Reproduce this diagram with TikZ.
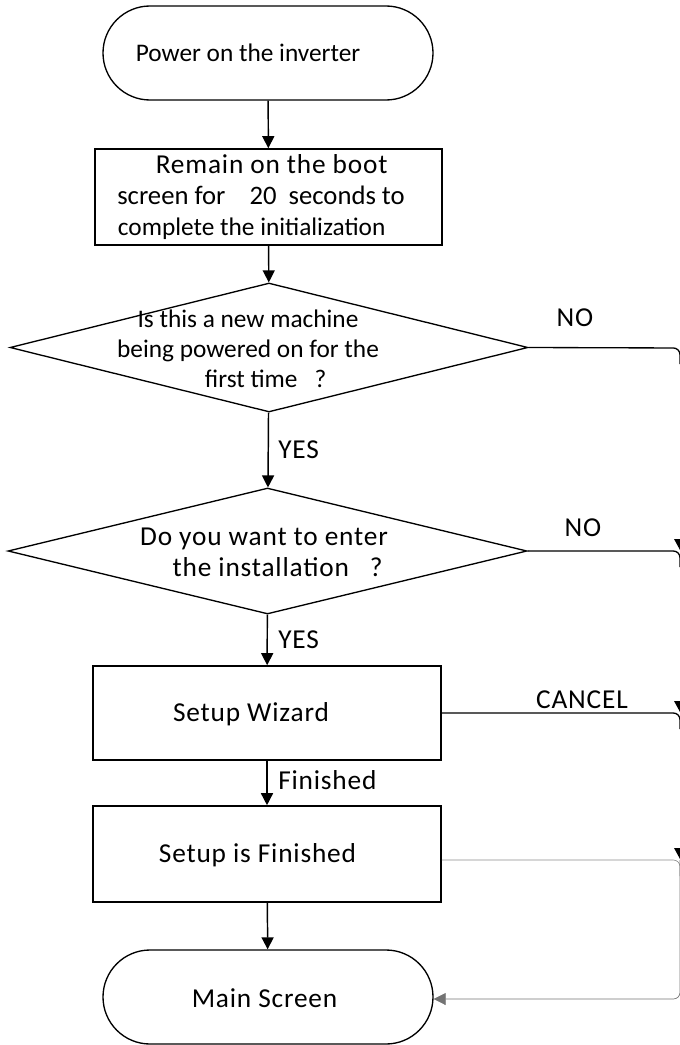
\documentclass[tikz,border=0pt]{standalone}
\usepackage{fontspec}
\setmainfont{Carlito}
\newfontfamily\widefont[LetterSpace=3]{Carlito}
\usetikzlibrary{arrows.meta,shapes.geometric,shapes.misc}
\begin{document}
\begin{tikzpicture}[x=0.75pt,y=-0.75pt,
  every node/.style={font=\fontsize{19}{22.5}\selectfont},
  big/.style={font=\widefont\fontsize{20.5}{23.5}\selectfont},
  term/.style={rounded rectangle, draw, line width=1pt, minimum width=247.5pt, minimum height=70.5pt, inner sep=0pt},
  procbox/.style={rectangle, draw, line width=1.2pt, inner sep=0pt},
  decision/.style={diamond, draw, line width=1pt, inner sep=0pt},
  txt/.style={inner sep=0pt, align=center},
  flow/.style={line width=1.1pt, -{Triangle[length=9pt,width=9pt]}},
  ret/.style={line width=1pt, rounded corners=5pt},
  retgray/.style={line width=0.5pt, draw=black!45, rounded corners=5pt},
  lbl/.style={big, inner sep=0pt, anchor=west}
]
\useasboundingbox (0,0) rectangle (680,1045);

% shapes
\node[term] (power) at (268,53) {};
\node[txt] (powertxt) at (248,53) {Power on the inverter};

\node[procbox, minimum width=260.25pt, minimum height=72pt] (boot) at (268.5,197) {};
\node[txt, font=\fontsize{20}{23}\selectfont] (boottxt) at (261,197) {\hspace*{16pt}{\widefont\fontsize{20.5}{23}\selectfont Remain on the boot}\\screen for\ \ \ \ 20\ \ seconds to\\{\fontsize{19}{23}\selectfont complete the initialization}\hspace*{14pt}};

\node[decision, minimum width=388.5pt, minimum height=96.75pt] (d1) at (269,347.5) {};
\node[txt] (d1txt) at (248,349) {Is this a new machine\\being powered on for the\\\hspace*{1.4em}first time\ \ \ ?};

\node[decision, minimum width=389.25pt, minimum height=94.5pt] (d2) at (267.5,551) {};
\node[txt, big] (d2txt) at (264,552) {Do you want to enter\\\hspace*{1.0em}the installation\ \ \ ?};

\node[procbox, minimum width=261pt, minimum height=70.5pt] (wiz) at (267,713) {};
\node[txt, big] (wiztxt) at (251,714) {Setup Wizard};

\node[procbox, minimum width=261pt, minimum height=72pt] (fin) at (267,854) {};
\node[txt, big] (fintxt) at (257.5,855) {Setup is Finished};

\node[term, minimum height=70.5pt] (main) at (268,997) {};
\node[txt, big] (maintxt) at (264.5,998) {Main Screen};

% vertical flow
\draw[flow] (power) -- (boot);
\draw[flow] (boot) -- (d1);
\draw[flow] (d1) -- (d2);
\draw[flow] (d2) -- (wiz);
\draw[flow] (wiz) -- (fin);
\draw[flow] (fin) -- (main);

\node[lbl] (yes1) at (278,450) {YES};
\node[lbl] (yes2) at (278,640) {YES};
\node[lbl] (finl) at (278,780) {Finished};

% return path on the right
\coordinate (r1) at (680,348);
\coordinate (r2) at (680,551);
\coordinate (r3) at (680,713);
\coordinate (r4) at (680,860);
\coordinate (rb) at (680,999);

\draw[ret] (d1.east) -- (r1) -- ([yshift=-12pt]r1);
\draw[ret] (d2.east) -- (r2) -- ([yshift=-12pt]r2);
\draw[ret] (wiz.east) -- (r3) -- ([yshift=-12pt]r3);
\draw[retgray] (fin.east |- r4) -- (r4) -- ([yshift=-12pt]r4);
\draw[retgray] (r1) -- (rb);
\draw[retgray, -{Triangle[length=9pt,width=9pt]}, draw=black!55] (r4) -- (rb) -- (main.east |- rb);

\fill ([shift={(-6,-12)}]r2) -- ([shift={(6,-12)}]r2) -- ([shift={(0,-1)}]r2) -- cycle;
\fill ([shift={(-6,-12)}]r3) -- ([shift={(6,-12)}]r3) -- ([shift={(0,-1)}]r3) -- cycle;
\fill ([shift={(-6,-12)}]r4) -- ([shift={(6,-12)}]r4) -- ([shift={(0,-1)}]r4) -- cycle;

\node[big, inner sep=0pt] (no1) at (575,318) {NO};
\node[big, inner sep=0pt] (no2) at (583,528) {NO};
\node[big, inner sep=0pt] (cancel) at (582,700) {CANCEL};
\end{tikzpicture}
\end{document}
